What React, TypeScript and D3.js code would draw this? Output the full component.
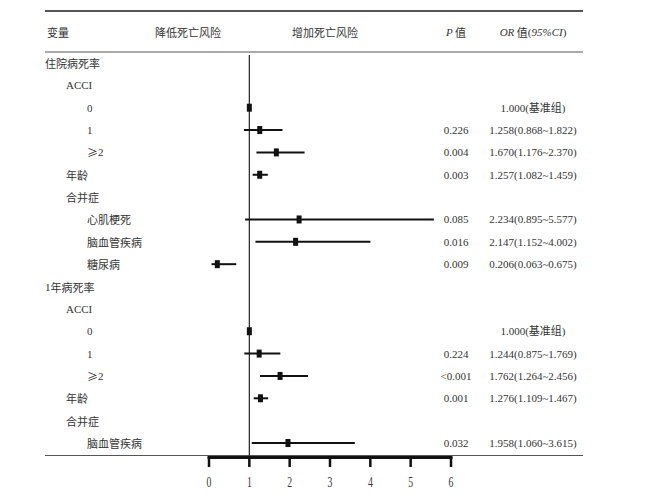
import React from "react";
import * as d3 from "d3";

const labels = ["住院病死率", "ACCI", "0", "1", "≥2", "年龄", "合并症", "心肌梗死", "脑血管疾病", "糖尿病",
  "1年病死率", "ACCI", "0", "1", "≥2", "年龄", "合并症", "脑血管疾病"];
const indents = [0, 1, 2, 2, 2, 1, 1, 2, 2, 2, 0, 1, 2, 2, 2, 1, 1, 2];
const orValues: (number | null)[] = [null, null, 1.0, 1.258, 1.670, 1.257, null, 2.234, 2.147, 0.206,
  null, null, 1.0, 1.244, 1.762, 1.276, null, 1.958];
const lowerCI: (number | null)[] = [null, null, null, 0.868, 1.176, 1.082, null, 0.895, 1.152, 0.063,
  null, null, null, 0.875, 1.264, 1.109, null, 1.060];
const upperCI: (number | null)[] = [null, null, null, 1.822, 2.370, 1.459, null, 5.577, 4.002, 0.675,
  null, null, null, 1.769, 2.456, 1.467, null, 3.615];
const pValues = ["", "", "", "0.226", "0.004", "0.003", "", "0.085", "0.016", "0.009",
  "", "", "", "0.224", "<0.001", "0.001", "", "0.032"];
const referenceLabel = "基准组";
const xTicks = [0, 1, 2, 3, 4, 5, 6];

const W = 654, H = 496;
const CN = "'Noto Sans CJK SC', sans-serif";
const NUM = "'Liberation Serif', 'Noto Sans CJK SC', serif";
const TXT = "#333";

// split a label into runs of CJK / non-CJK characters so each uses a suitable font
function runs(s: string) {
  const out: { t: string; cjk: boolean }[] = [];
  for (const ch of s) {
    const cjk = /[\u2265\u3000-\u9fff]/.test(ch);
    const last = out[out.length - 1];
    if (last && last.cjk === cjk) last.t += ch;
    else out.push({ t: ch, cjk });
  }
  return out;
}

export default function App() {
  const x = d3.scaleLinear().domain([0, 6]).range([209, 451]);
  const y = d3.scalePoint<number>().domain(d3.range(labels.length)).range([63, 443]);
  const fmt = d3.format(".3f");
  const indentX = [45, 66, 87];

  const orText = (i: number) => {
    const v = orValues[i];
    if (v == null) return "";
    const lo = lowerCI[i], hi = upperCI[i];
    if (lo == null || hi == null) return `${fmt(v)}(${referenceLabel})`;
    return `${fmt(v)}(${fmt(lo)}~${fmt(hi)})`;
  };

  return (
    <svg width={W} height={H} style={{ position: "absolute", left: 0, top: 0, background: "#fff" }}>
      {/* rules */}
      <line x1={45} x2={583} y1={11} y2={11} stroke="#555" strokeWidth={2} />
      <line x1={45} x2={583} y1={52} y2={52} stroke="#555" strokeWidth={1} />
      <line x1={45} x2={583} y1={455.5} y2={455.5} stroke="#555" strokeWidth={1} />

      {/* header */}
      <g fill={TXT} fontSize={11} dominantBaseline="central">
        <text x={47} y={32} fontFamily={CN}>变量</text>
        <text x={188} y={32} fontFamily={CN} textAnchor="middle">降低死亡风险</text>
        <text x={325} y={32} fontFamily={CN} textAnchor="middle">增加死亡风险</text>
        <text x={456} y={32} textAnchor="middle" fontFamily={NUM}>
          <tspan fontStyle="italic">P</tspan><tspan fontFamily={CN}> 值</tspan>
        </text>
        <text x={533} y={32} textAnchor="middle" fontFamily={NUM}>
          <tspan fontStyle="italic">OR</tspan><tspan fontFamily={CN}> 值</tspan>
          <tspan>(</tspan><tspan fontStyle="italic">95%CI</tspan><tspan>)</tspan>
        </text>
      </g>

      {/* reference line */}
      <line x1={x(1)} x2={x(1)} y1={55} y2={456} stroke="#222" strokeWidth={1.2} />

      {/* rows */}
      {labels.map((lab, i) => {
        const yy = y(i) as number;
        const v = orValues[i];
        const lo = lowerCI[i], hi = upperCI[i];
        return (
          <g key={i}>
            <text x={indentX[indents[i]]} y={yy} fontSize={11} fill={TXT} dominantBaseline="central">
              {runs(lab).map((r, k) => (
                <tspan key={k} fontFamily={r.cjk ? CN : NUM}>{r.t}</tspan>
              ))}
            </text>
            {lo != null && hi != null && (
              <line x1={x(lo)} x2={x(hi)} y1={yy} y2={yy} stroke="#111" strokeWidth={2} />
            )}
            {v != null && (
              <rect x={x(v) - 2.5} y={yy - 4} width={5} height={8} fill="#111" />
            )}
            {pValues[i] && (
              <text x={456} y={yy} textAnchor="middle" fontSize={11} fill={TXT} fontFamily={NUM}
                dominantBaseline="central">{pValues[i]}</text>
            )}
            {v != null && (
              <text x={533} y={yy} textAnchor="middle" fontSize={11} fill={TXT} fontFamily={NUM}
                dominantBaseline="central">{orText(i)}</text>
            )}
          </g>
        );
      })}

      {/* axis */}
      <line x1={x(0) - 1.5} x2={x(6) + 1.5} y1={457.5} y2={457.5} stroke="#111" strokeWidth={3} />
      {xTicks.map(t => (
        <g key={t}>
          <line x1={x(t)} x2={x(t)} y1={457} y2={467} stroke="#111" strokeWidth={2.5} />
          <text transform={`translate(${x(t)},482) scale(0.65,1)`} textAnchor="middle" fontSize={15}
            fill={TXT} fontFamily={NUM} dominantBaseline="central">{t}</text>
        </g>
      ))}
    </svg>
  );
}
